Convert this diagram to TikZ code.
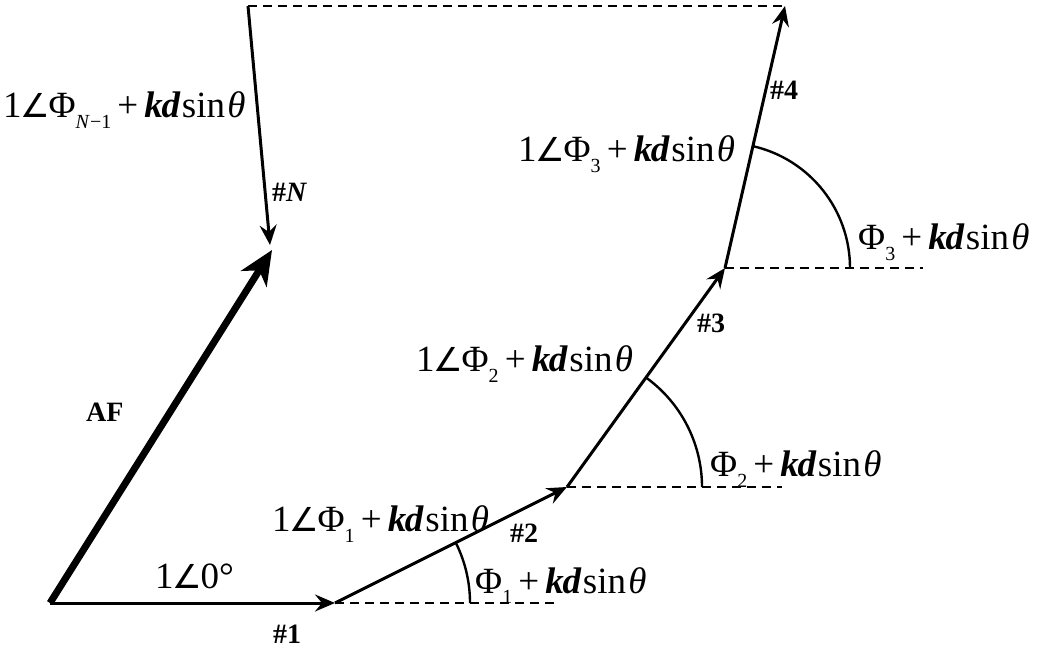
\documentclass[tikz,border=0pt]{standalone}
\usepackage{fontspec}
\setmainfont{Liberation Serif}
\newfontfamily\symf{DejaVu Sans}
\usetikzlibrary{arrows.meta}
\newcommand\bigf{\fontsize{37}{40}\selectfont}
\newcommand\smallf{\fontsize{28}{30}\selectfont}
\newcommand\angsym{1\kern-0.03em{\symf\fontsize{33}{33}\selectfont ∠}\kern-0.04em}
\newcommand\sbs[1]{\raisebox{-0.28em}{\fontsize{20}{20}\selectfont #1}}
\newcommand\kds{\textbf{\textit{k\kern-0.04em d}}\kern0.04em sin\kern0.06em\textit{θ}}
\tikzset{
  vec/.style={line width=3pt, -{Stealth[length=20pt,width=17pt,inset=7pt]}},
  afvec/.style={line width=7pt, -{Stealth[length=34pt,width=30pt,inset=10pt]}},
  guide/.style={line width=1.4pt, dash pattern=on 9pt off 6pt},
  anglearc/.style={line width=2.4pt},
  lab/.style={anchor=base west, inner sep=0pt, font=\bigf},
  tag/.style={anchor=base west, inner sep=0pt, font=\smallf\bfseries}
}
\begin{document}
\begin{tikzpicture}[x=1pt,y=1pt]
\useasboundingbox (0,0) rectangle (1040,650);
% vertices
\coordinate (O) at (50,47);
\coordinate (V1) at (335,47);
\coordinate (V2) at (567,163);
\coordinate (V3) at (725,382);
\coordinate (V4) at (785,644);
\coordinate (T) at (248,644);
\coordinate (NT) at (270,405);
\coordinate (AFT) at (272,400);
\coordinate (D1) at (558,47);
\coordinate (D2) at (782,163);
\coordinate (D3) at (923,382);
% guides
\draw[guide] (V1) -- (D1);
\draw[guide] (V2) -- (D2);
\draw[guide] (V3) -- (D3);
\draw[guide] (T) -- (V4);
% arcs
\draw[anglearc] ([xshift=135pt]V1) arc[start angle=0,end angle=26.6,radius=135];
\draw[anglearc] ([xshift=135pt]V2) arc[start angle=0,end angle=54.2,radius=135];
\draw[anglearc] ([xshift=125pt]V3) arc[start angle=0,end angle=77.1,radius=125];
% vectors
\draw[vec] (O) -- (V1);
\draw[vec] (V1) -- (V2);
\draw[vec] (V2) -- (V3);
\draw[vec] (V3) -- (V4);
\draw[vec] (T) -- (NT);
\draw[afvec] (O) -- (AFT);
% labels
\node[lab] (lN) at (3,532) {\angsym Φ\sbs{\textit{N}−1}\,+\,\kds};
\node[lab] (l0) at (155,62) {\angsym 0°};
\node[lab] (l1) at (272,118) {\angsym Φ\sbs{1}\,+\,\kds};
\node[lab] (a1) at (475,57) {Φ\sbs{1}\,+\,\kds};
\node[lab] (l2) at (416,278) {\angsym Φ\sbs{2}\,+\,\kds};
\node[lab] (a2) at (710,173) {Φ\sbs{2}\,+\,\kds};
\node[lab] (l3) at (518,488) {\angsym Φ\sbs{3}\,+\,\kds};
\node[lab] (a3) at (858,400) {Φ\sbs{3}\,+\,\kds};
\node[tag] (t1) at (273,7) {\#1};
\node[tag] (t2) at (510,107) {\#2};
\node[tag] (t3) at (697,317) {\#3};
\node[tag] (t4) at (770,550) {\#4};
\node[tag] (tN) at (272,448) {\#\textit{N}};
\node[tag] (tAF) at (86,228) {AF};
\end{tikzpicture}
\end{document}
